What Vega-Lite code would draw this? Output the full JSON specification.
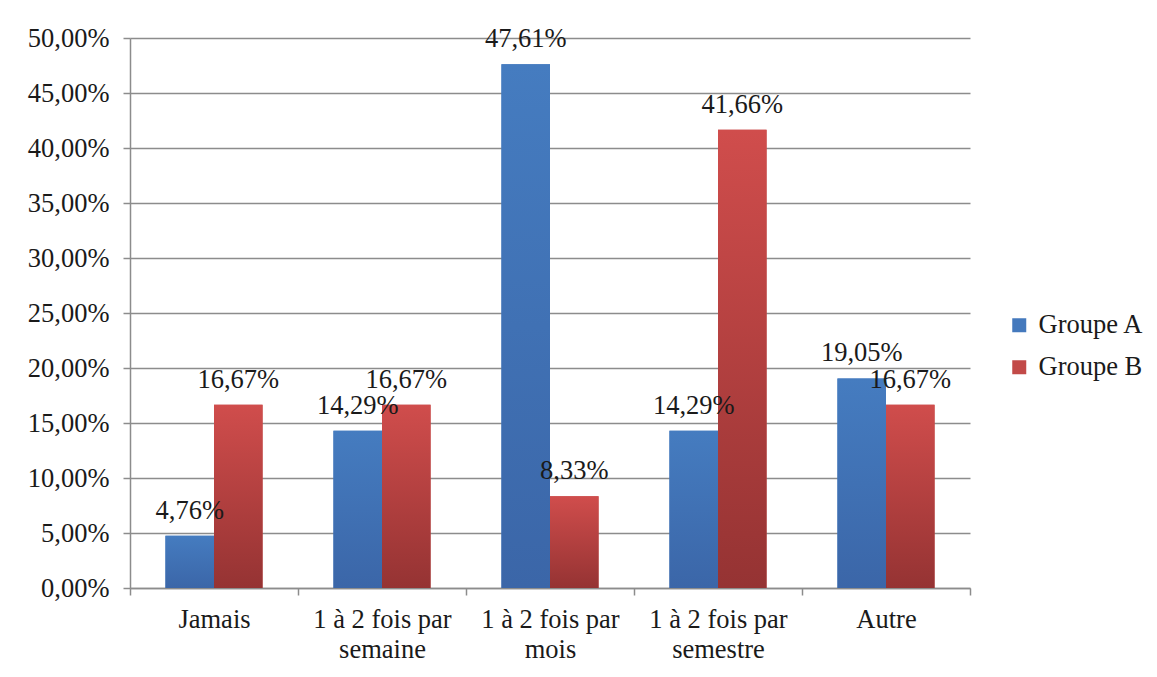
{
  "$schema": "https://vega.github.io/schema/vega-lite/v6.json",
  "width": 840,
  "height": 550,
  "autosize": {"type": "none"},
  "padding": {"left": 130, "top": 38, "right": 187, "bottom": 89},
  "background": "white",
  "config": {
    "locale": {"number": {"decimal": ",", "thousands": " ", "grouping": [3], "currency": ["", " €"]}},
    "font": "'Liberation Serif', 'DejaVu Serif', serif",
    "view": {"stroke": null},
    "axis": {"labelFont": "'Liberation Serif', 'DejaVu Serif', serif", "labelColor": "#1a1a1a", "domainColor": "#8c8c8c", "tickColor": "#8c8c8c", "gridColor": "#8c8c8c", "domainWidth": 1.5, "tickWidth": 1.5, "gridWidth": 1.5},
    "legend": {"labelFont": "'Liberation Serif', 'DejaVu Serif', serif", "labelColor": "#1a1a1a"}
  },
  "data": {
    "values": [
      {"categorie": "Jamais", "groupe": "Groupe A", "valeur": 0.0476},
      {"categorie": "Jamais", "groupe": "Groupe B", "valeur": 0.1667},
      {"categorie": "1 à 2 fois par|semaine", "groupe": "Groupe A", "valeur": 0.1429},
      {"categorie": "1 à 2 fois par|semaine", "groupe": "Groupe B", "valeur": 0.1667},
      {"categorie": "1 à 2 fois par|mois", "groupe": "Groupe A", "valeur": 0.4761},
      {"categorie": "1 à 2 fois par|mois", "groupe": "Groupe B", "valeur": 0.0833},
      {"categorie": "1 à 2 fois par|semestre", "groupe": "Groupe A", "valeur": 0.1429},
      {"categorie": "1 à 2 fois par|semestre", "groupe": "Groupe B", "valeur": 0.4166},
      {"categorie": "Autre", "groupe": "Groupe A", "valeur": 0.1905},
      {"categorie": "Autre", "groupe": "Groupe B", "valeur": 0.1667}
    ]
  },
  "encoding": {
    "x": {
      "field": "categorie", "type": "nominal", "sort": null,
      "scale": {"paddingInner": 0, "paddingOuter": 0},
      "axis": {"title": null, "labelAngle": 0, "tickBand": "extent", "tickSize": 7, "labelFontSize": 26.5, "labelExpr": "split(datum.label, '|')", "labelLineHeight": 30, "labelPadding": 11, "grid": false}
    },
    "xOffset": {"field": "groupe", "type": "nominal", "sort": ["Groupe A", "Groupe B"], "scale": {"paddingInner": 0, "paddingOuter": 0.73}},
    "y": {
      "field": "valeur", "type": "quantitative",
      "scale": {"domain": [0, 0.5], "nice": false},
      "axis": {"title": null, "values": [0, 0.05, 0.1, 0.15, 0.2, 0.25, 0.3, 0.35, 0.4, 0.45, 0.5], "format": ".2%", "grid": true, "tickSize": 7, "labelFontSize": 26.5, "labelPadding": 14}
    }
  },
  "layer": [
    {
      "mark": {"type": "bar"},
      "encoding": {
        "color": {
          "field": "groupe", "type": "nominal",
          "scale": {"domain": ["Groupe A", "Groupe B"], "range": ["#4479bd", "#c24a48"]},
          "legend": {"orient": "none", "legendX": 876, "legendY": 274, "title": null, "labelFontSize": 26.5, "symbolType": "square", "symbolSize": 196, "rowPadding": 15, "labelOffset": 6, "symbolStrokeWidth": 0}
        }
      }
    },
    {
      "mark": {"type": "bar"},
      "encoding": {
        "fill": {
          "condition": {
            "test": "datum.groupe === 'Groupe A'",
            "value": {"gradient": "linear", "x1": 0, "y1": 0, "x2": 0, "y2": 1, "stops": [{"offset": 0, "color": "#457cc0"}, {"offset": 1, "color": "#3b66a8"}]}
          },
          "value": {"gradient": "linear", "x1": 0, "y1": 0, "x2": 0, "y2": 1, "stops": [{"offset": 0, "color": "#d04d4c"}, {"offset": 1, "color": "#953333"}]}
        }
      }
    },
    {
      "mark": {"type": "text", "dy": -17, "baseline": "alphabetic", "fontSize": 26.5, "color": "#1a1a1a", "font": "'Liberation Serif', 'DejaVu Serif', serif"},
      "encoding": {"text": {"field": "valeur", "type": "quantitative", "format": ".2%"}}
    }
  ]
}
